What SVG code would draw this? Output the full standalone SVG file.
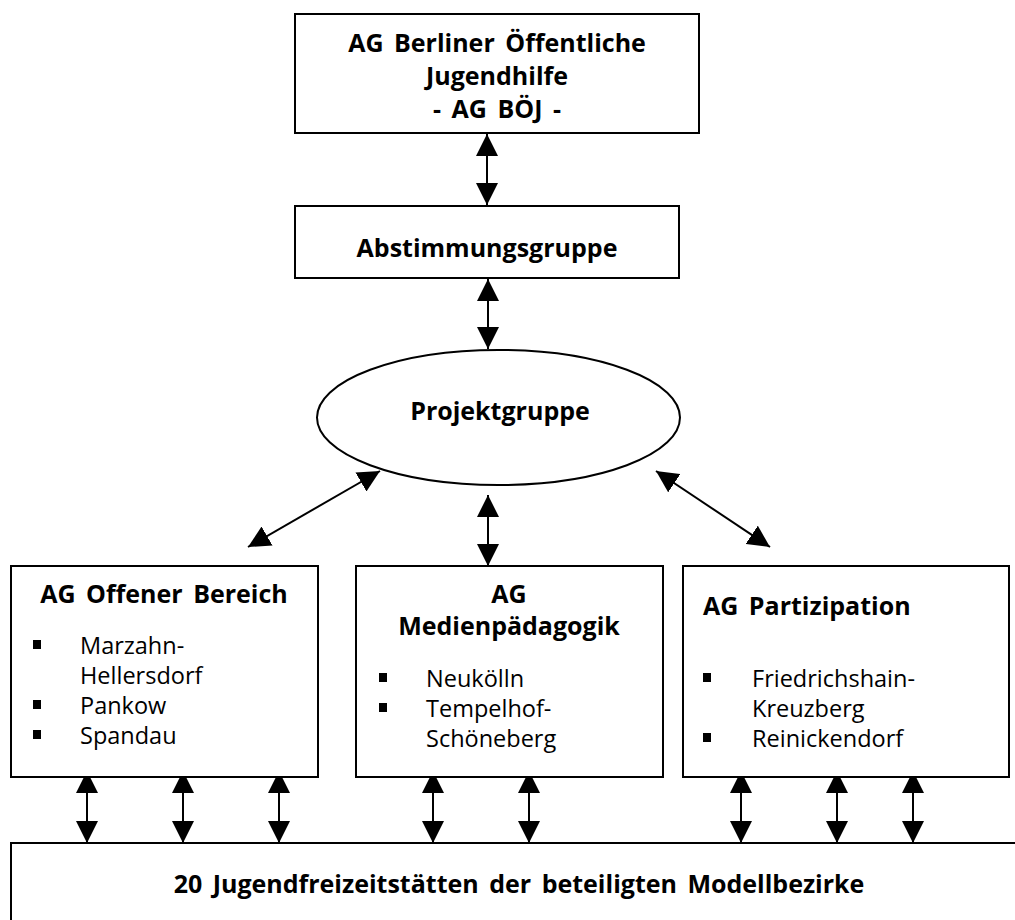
<svg xmlns="http://www.w3.org/2000/svg" width="1015" height="920" viewBox="0 0 1015 920">
<style>
.box{fill:#fff;stroke:#000;stroke-width:2}
.t{font-family:"Open Sans","Noto Sans","DejaVu Sans",sans-serif;font-weight:bold;font-size:25px;word-spacing:4px;fill:#000}
.r{font-family:"Open Sans","Noto Sans","DejaVu Sans",sans-serif;font-size:23.5px;fill:#000}
.c{text-anchor:middle}
.ln{stroke:#000;stroke-width:2;fill:none;marker-start:url(#ah);marker-end:url(#ah)}
.b{fill:#000}
</style>
<defs>
<marker id="ah" markerUnits="userSpaceOnUse" markerWidth="22" markerHeight="22" viewBox="0 0 20 20" refX="20" refY="10" orient="auto-start-reverse">
<path d="M0,0 L20,10 L0,20 z" fill="#000"/>
</marker>
</defs>
<rect width="1015" height="920" fill="#fff"/>
<g id="connectors">
<line class="ln" x1="487" y1="134" x2="487" y2="205"/>
<line class="ln" x1="488" y1="279" x2="488" y2="349"/>
<line class="ln" x1="488" y1="495" x2="488" y2="566"/>
<line class="ln" x1="380" y1="471" x2="248" y2="547"/>
<line class="ln" x1="656" y1="471" x2="770" y2="547"/>
<line class="ln" x1="87" y1="771" x2="87" y2="843"/>
<line class="ln" x1="183" y1="771" x2="183" y2="843"/>
<line class="ln" x1="279" y1="771" x2="279" y2="843"/>
<line class="ln" x1="433" y1="771" x2="433" y2="843"/>
<line class="ln" x1="529" y1="771" x2="529" y2="843"/>
<line class="ln" x1="741" y1="771" x2="741" y2="843"/>
<line class="ln" x1="837" y1="771" x2="837" y2="843"/>
<line class="ln" x1="913" y1="771" x2="913" y2="843"/>
</g>
<g id="agboej">
<rect class="box" x="295" y="14" width="404" height="119"/>
<text class="t c" x="497" y="52">AG Berliner Öffentliche</text>
<text class="t c" x="497" y="85">Jugendhilfe</text>
<text class="t c" x="497" y="118">- AG BÖJ -</text>
</g>
<g id="abstimmung">
<rect class="box" x="295" y="206" width="384" height="72"/>
<text class="t c" x="487" y="257">Abstimmungsgruppe</text>
</g>
<g id="projekt">
<ellipse class="box" cx="498.5" cy="417.5" rx="181.5" ry="67.5"/>
<text class="t c" x="500" y="420">Projektgruppe</text>
</g>
<g id="offen">
<rect class="box" x="11" y="566" width="307" height="211"/>
<text class="t c" x="164" y="603">AG Offener Bereich</text>
<rect class="b" x="33" y="640" width="8" height="9"/>
<text class="r" x="80" y="654">Marzahn-</text>
<text class="r" x="80" y="684">Hellersdorf</text>
<rect class="b" x="33" y="700" width="8" height="9"/>
<text class="r" x="80" y="714">Pankow</text>
<rect class="b" x="33" y="730" width="8" height="9"/>
<text class="r" x="80" y="744">Spandau</text>
</g>
<g id="medien">
<rect class="box" x="356" y="566" width="307" height="211"/>
<text class="t c" x="509" y="603">AG</text>
<text class="t c" x="509" y="635">Medienpädagogik</text>
<rect class="b" x="379" y="673" width="8" height="9"/>
<text class="r" x="426" y="687">Neukölln</text>
<rect class="b" x="379" y="703" width="8" height="9"/>
<text class="r" x="426" y="717">Tempelhof-</text>
<text class="r" x="426" y="747">Schöneberg</text>
</g>
<g id="partizipation">
<rect class="box" x="683" y="566" width="326" height="211"/>
<text class="t" x="703" y="615">AG Partizipation</text>
<rect class="b" x="703" y="673" width="8" height="9"/>
<text class="r" x="752" y="687">Friedrichshain-</text>
<text class="r" x="752" y="717">Kreuzberg</text>
<rect class="b" x="703" y="733" width="8" height="9"/>
<text class="r" x="752" y="747">Reinickendorf</text>
</g>
<g id="jft">
<rect class="box" x="11" y="843" width="1020" height="100"/>
<text class="t c" x="519" y="893">20 Jugendfreizeitstätten der beteiligten Modellbezirke</text>
</g>
</svg>
